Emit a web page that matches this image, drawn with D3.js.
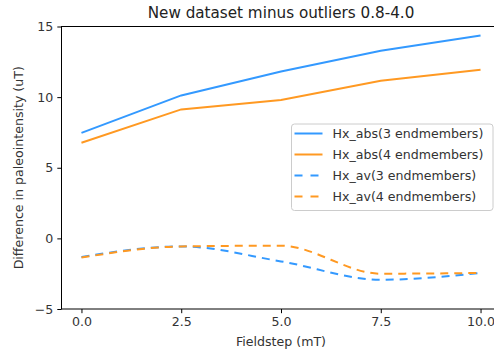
<!DOCTYPE html>
<html>
<head>
<meta charset="utf-8">
<script src="https://cdn.jsdelivr.net/npm/d3@7"></script>
<style>
body { margin: 0; background: #fff; }
svg { display: block; font-family: "DejaVu Sans", sans-serif; }
</style>
</head>
<body>
<svg width="494" height="354"></svg>
<script>
var fieldsteps = [0, 2.5, 5, 7.5, 10];
var absThree = [7.47, 10.12, 11.82, 13.29, 14.37];
var absFour = [6.77, 9.13, 9.79, 11.16, 11.94];
var avThree = [-1.32, -0.57, -1.63, -2.93, -2.45];
var avFour = [-1.36, -0.57, -0.52, -2.5, -2.45];
var xTicks = [0, 2.5, 5, 7.5, 10];
var yTicks = [-5, 0, 5, 10, 15];

var series = [
    {name: "Hx_abs(3 endmembers)", values: absThree, color: "#3399ff", dashed: false},
    {name: "Hx_abs(4 endmembers)", values: absFour, color: "#ff9922", dashed: false},
    {name: "Hx_av(3 endmembers)", values: avThree, color: "#3399ff", dashed: true},
    {name: "Hx_av(4 endmembers)", values: avFour, color: "#ff9922", dashed: true}
];

var svg = d3.select("svg");
var plotLeft = 61.5, plotRight = 500.5, plotTop = 26.5, plotBottom = 309;
var fontSize = "12.6px";

var x = d3.scaleLinear().domain([-0.5, 10.5]).range([plotLeft, plotRight]);
var y = d3.scaleLinear().domain([-5, 15]).range([plotBottom, plotTop]);

// lines
series.forEach(function (s) {
    var line = d3.line()
        .x(function (d, i) { return x(fieldsteps[i]); })
        .y(function (d) { return y(d); })
        .curve(s.dashed ? d3.curveMonotoneX : d3.curveLinear);
    svg.append("path")
        .attr("d", line(s.values))
        .attr("fill", "none")
        .attr("stroke", s.color)
        .attr("stroke-width", 2)
        .attr("stroke-dasharray", s.dashed ? "8,6" : null);
});

// axes
var xAxis = d3.axisBottom(x).tickValues(xTicks)
    .tickFormat(function (d) { return d.toFixed(1); })
    .tickSize(4.2).tickPadding(4);
var yAxis = d3.axisLeft(y).tickValues(yTicks)
    .tickFormat(function (d) { return d < 0 ? "\u2212" + Math.abs(d) : d; })
    .tickSize(4.2).tickPadding(4);

var gx = svg.append("g").attr("transform", "translate(0," + plotBottom + ")").call(xAxis);
var gy = svg.append("g").attr("transform", "translate(" + plotLeft + ",0)").call(yAxis);
[gx, gy].forEach(function (g) {
    g.select(".domain").remove();
    g.selectAll("line").attr("stroke", "#000").attr("stroke-width", 1);
    g.selectAll("text").attr("fill", "#333").style("font-size", fontSize)
        .style("font-family", "DejaVu Sans");
});

// spines
svg.append("rect")
    .attr("x", plotLeft).attr("y", plotTop)
    .attr("width", plotRight - plotLeft).attr("height", plotBottom - plotTop)
    .attr("fill", "none").attr("stroke", "#000").attr("stroke-width", 1);

// title and labels
svg.append("text").attr("x", (plotLeft + plotRight) / 2).attr("y", 18)
    .attr("text-anchor", "middle").style("font-size", "15.2px").attr("fill", "#222")
    .text("New dataset minus outliers 0.8-4.0");
svg.append("text").attr("x", (plotLeft + plotRight) / 2).attr("y", 346)
    .attr("text-anchor", "middle").style("font-size", fontSize).attr("fill", "#333")
    .text("Fieldstep (mT)");
svg.append("text")
    .attr("transform", "translate(23," + (plotTop + plotBottom) / 2 + ") rotate(-90)")
    .attr("text-anchor", "middle").style("font-size", fontSize).attr("fill", "#333")
    .text("Difference in paleointensity (uT)");

// legend
var legend = svg.append("g").attr("transform", "translate(291.5,124)");
legend.append("rect")
    .attr("width", 201.5).attr("height", 86.5).attr("rx", 3)
    .attr("fill", "#fff").attr("fill-opacity", 0.8)
    .attr("stroke", "#ccc").attr("stroke-width", 1);
var rows = legend.selectAll("g.row").data(series).enter().append("g")
    .attr("transform", function (d, i) { return "translate(0," + (9.5 + i * 21) + ")"; });
rows.append("line")
    .attr("x1", 3).attr("x2", 31)
    .attr("stroke", function (d) { return d.color; })
    .attr("stroke-width", 2)
    .attr("stroke-dasharray", function (d) { return d.dashed ? "8,8" : null; });
rows.append("text")
    .attr("x", 41).attr("dy", "0.35em")
    .style("font-size", fontSize).attr("fill", "#333")
    .text(function (d) { return d.name; });
</script>
</body>
</html>
